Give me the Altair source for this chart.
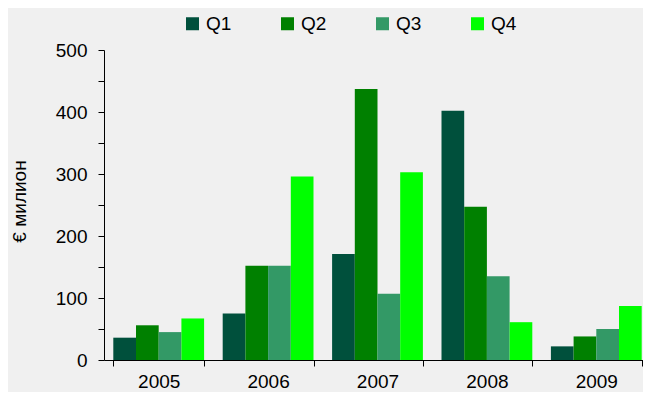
import altair as alt
import pandas as pd

years = ["2005", "2006", "2007", "2008", "2009"]
quarters = ["Q1", "Q2", "Q3", "Q4"]
q1 = [36, 75, 171, 402, 22]
q2 = [56, 152, 437, 247, 38]
q3 = [45, 152, 107, 135, 50]
q4 = [67, 296, 303, 61, 87]
colors = ["#00503C", "#008000", "#339966", "#00FF00"]

rows = []
for qi, series in enumerate([q1, q2, q3, q4]):
    for y, v in zip(years, series):
        rows.append({"year": y, "quarter": quarters[qi], "value": v})
df = pd.DataFrame(rows)

FONT = "Liberation Sans"

chart = alt.Chart(df).mark_bar().encode(
    x=alt.X("year:N", sort=years,
            scale=alt.Scale(paddingInner=0.17, paddingOuter=0.085, range=[0, 547]),
            axis=alt.Axis(title=None, labelAngle=0, tickBand="extent",
                          tickSize=6, labelPadding=6, labelFontSize=19,
                          labelFont=FONT, labelColor="#000000",
                          domainColor="#000000", tickColor="#000000",
                          grid=False)),
    xOffset=alt.XOffset("quarter:N", sort=quarters,
                        scale=alt.Scale(paddingInner=0, paddingOuter=0)),
    y=alt.Y("value:Q", scale=alt.Scale(domain=[0, 500], nice=False),
            axis=alt.Axis(title="€ милион", values=list(range(0, 501, 50)),
                          labelExpr="datum.value % 100 == 0 ? datum.label : ''",
                          tickSize=6, labelPadding=11, labelFontSize=19,
                          labelFont=FONT, labelColor="#000000",
                          domainColor="#000000", tickColor="#000000",
                          grid=False, titleFont=FONT, titleFontSize=19,
                          titleFontWeight="normal", titleColor="#000000",
                          titleAngle=270, titleX=-85, titleY=151,
                          titleAlign="center", titleBaseline="middle")),
    color=alt.Color("quarter:N", sort=quarters,
                    scale=alt.Scale(domain=quarters, range=colors),
                    legend=alt.Legend(title=None, orient="none", direction="horizontal",
                                      legendX=79, legendY=-36,
                                      symbolType="square", symbolSize=169,
                                      symbolStrokeWidth=0, labelOffset=4,
                                      columnPadding=46, labelFontSize=19,
                                      labelFont=FONT, labelColor="#000000")),
).properties(
    width=539, height=310,
    background="#F0F0F0",
    autosize=alt.AutoSizeParams(type="none"),
    padding={"left": 96, "top": 42, "right": 0, "bottom": 32},
).configure_view(stroke=None)

chart.save("out.html", embed_options={"renderer": "svg", "actions": False})
